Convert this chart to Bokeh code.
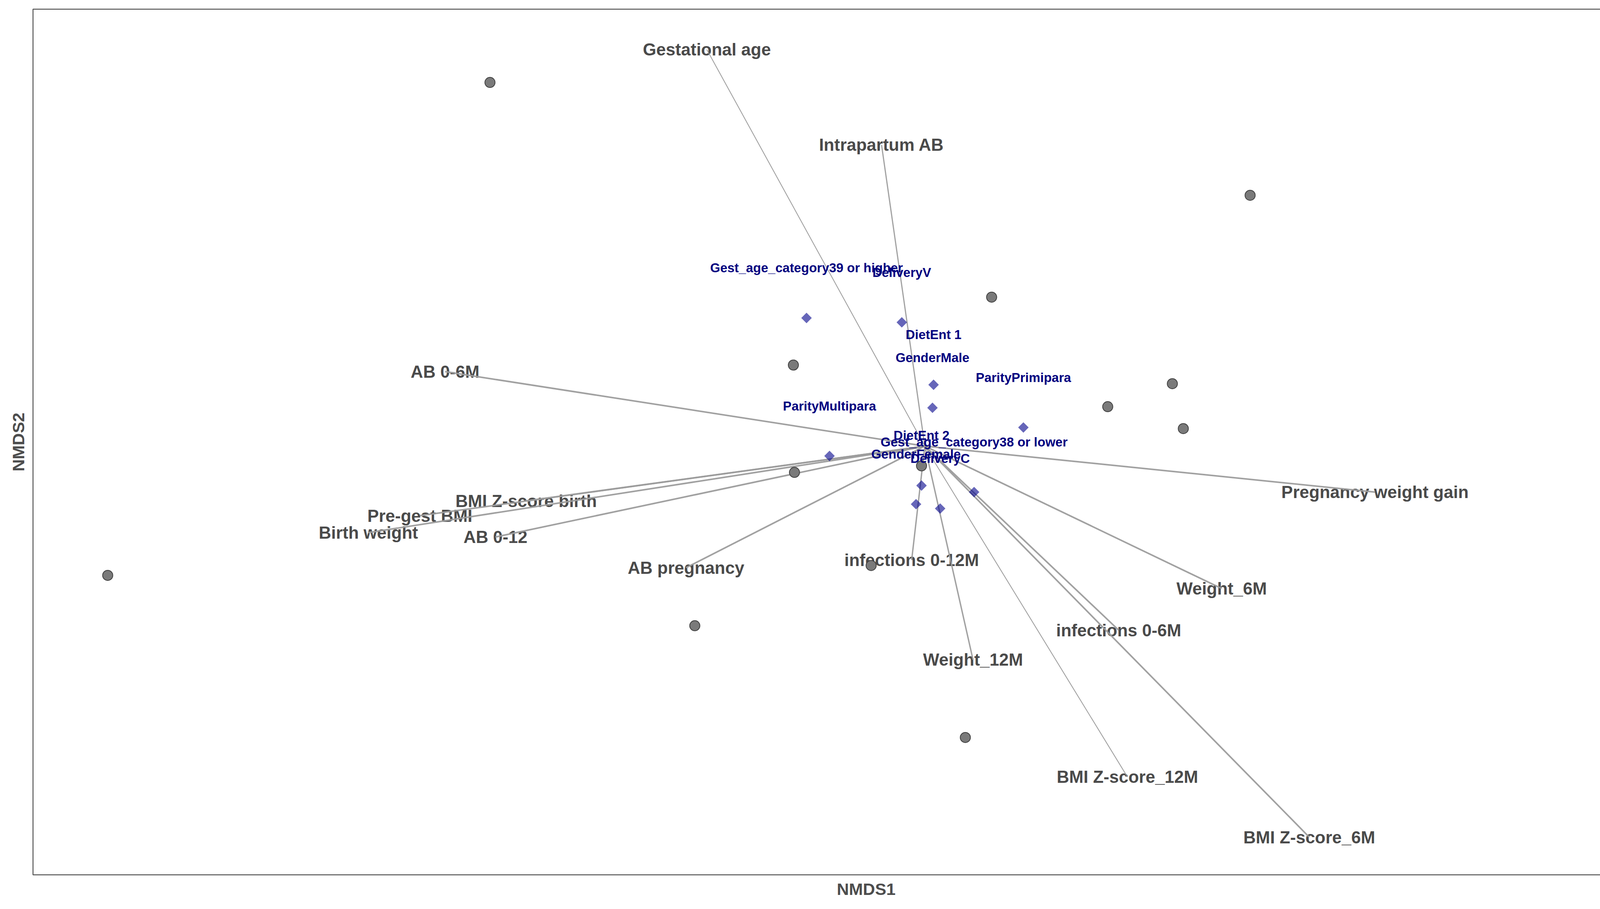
import numpy as np
from bokeh.plotting import figure
from bokeh.models import ColumnDataSource, FixedTicker, Range1d
from bokeh.core.properties import value
from bokeh.embed import file_html
from bokeh.resources import INLINE

# ---- data ----
site_nmds1 = [-0.397, 0.297, 0.061, -0.120, 0.226, 0.167, 0.236, -0.003, -0.119, -0.746, -0.049, 0.638, -0.210, 0.037]
site_nmds2 = [0.332, 0.229, 0.136, 0.074, 0.057, 0.036, 0.016, -0.018, -0.024, -0.118, -0.109, -0.125, -0.164, -0.266]

factor_levels = ["Gest_age_category39 or higher", "DeliveryV", "DietEnt 1", "GenderMale",
                 "ParityPrimipara", "ParityMultipara", "DietEnt 2",
                 "Gest_age_category38 or lower", "GenderFemale", "DeliveryC"]
factor_nmds1 = [-0.108, -0.021, 0.008, 0.007, 0.090, -0.087, -0.003, 0.045, -0.008, 0.014]
factor_nmds2 = [0.117, 0.113, 0.056, 0.035, 0.017, -0.009, -0.036, -0.042, -0.053, -0.057]

vector_names = ["Gestational age", "Intrapartum AB", "AB 0-6M", "BMI Z-score birth", "Pre-gest BMI",
                "Birth weight", "AB 0-12", "AB pregnancy", "infections 0-12M", "Weight_12M",
                "infections 0-6M", "BMI Z-score_12M", "BMI Z-score_6M", "Weight_6M",
                "Pregnancy weight gain"]
vector_nmds1 = [-0.199, -0.0395, -0.438, -0.364, -0.461, -0.508, -0.392, -0.218, -0.012, 0.044,
                0.177, 0.185, 0.351, 0.271, 0.411]
vector_nmds2 = [0.362, 0.275, 0.068, -0.050, -0.0635, -0.079, -0.083, -0.111, -0.104, -0.195,
                -0.168, -0.302, -0.357, -0.130, -0.042]

# ---- styling ----
seg_widths = [2.2, 3.0, 4.0, 4.0, 4.0, 4.0, 4.0, 4.0, 3.5, 3.5, 4.0, 2.2, 4.0, 4.0, 4.0]
FONT = value("Liberation Sans")

p = figure(width=4381, height=2311,
           x_range=Range1d(-0.8142, 0.7072), y_range=Range1d(-0.3914, 0.3989),
           output_backend="svg", toolbar_location=None,
           min_border_left=84, min_border_top=23, min_border_right=31, min_border_bottom=72)
p.xgrid.visible = False
p.ygrid.visible = False
p.background_fill_color = "white"
p.border_fill_color = "white"
p.outline_line_color = "#555555"
p.outline_line_width = 2.5

for ax, lab in ((p.xaxis, "NMDS1"), (p.yaxis, "NMDS2")):
    ax.ticker = FixedTicker(ticks=[])
    ax.major_label_text_font_size = "0px"
    ax.major_tick_line_color = None
    ax.minor_tick_line_color = None
    ax.axis_line_color = None
    ax.major_label_standoff = 0
    ax.axis_label = lab
    ax.axis_label_text_font = "Liberation Sans"
    ax.axis_label_text_font_style = "bold"
    ax.axis_label_text_font_size = "43px"
    ax.axis_label_text_color = "#4d4d4d"
p.xaxis.axis_label_standoff = 12
p.yaxis.axis_label_standoff = 14

vec_src = ColumnDataSource(dict(x0=[0.0] * len(vector_names), y0=[0.0] * len(vector_names),
                                x1=vector_nmds1, y1=vector_nmds2, name=vector_names, w=seg_widths))

# vector labels
p.text(x="x1", y="y1", text="name", source=vec_src, text_font=FONT, text_font_style="bold",
       text_font_size="44px", text_color="#4a4a4a", text_align="center", text_baseline="middle")

# vectors
p.segment(x0="x0", y0="y0", x1="x1", y1="y1", source=vec_src, line_color="#9c9c9c",
          line_width="w", line_alpha=0.95)

# sites
p.scatter(x=site_nmds1, y=site_nmds2, size=26, fill_color="#7a7a7a", line_color="#3f3f3f",
          line_width=2)

# factor centroids
fac_src = ColumnDataSource(dict(x=factor_nmds1, y=factor_nmds2, name=factor_levels))
p.scatter(x="x", y="y", source=fac_src, marker="square", angle=np.pi / 4, size=19,
          fill_color="#00008B", fill_alpha=0.6, line_color=None)
p.text(x="x", y="y", text="name", source=fac_src, y_offset=-128, text_font=FONT,
       text_font_style="bold", text_font_size="33px", text_color="#00007F",
       text_align="center", text_baseline="middle")

open("out.html", "w").write(file_html(p, INLINE))
